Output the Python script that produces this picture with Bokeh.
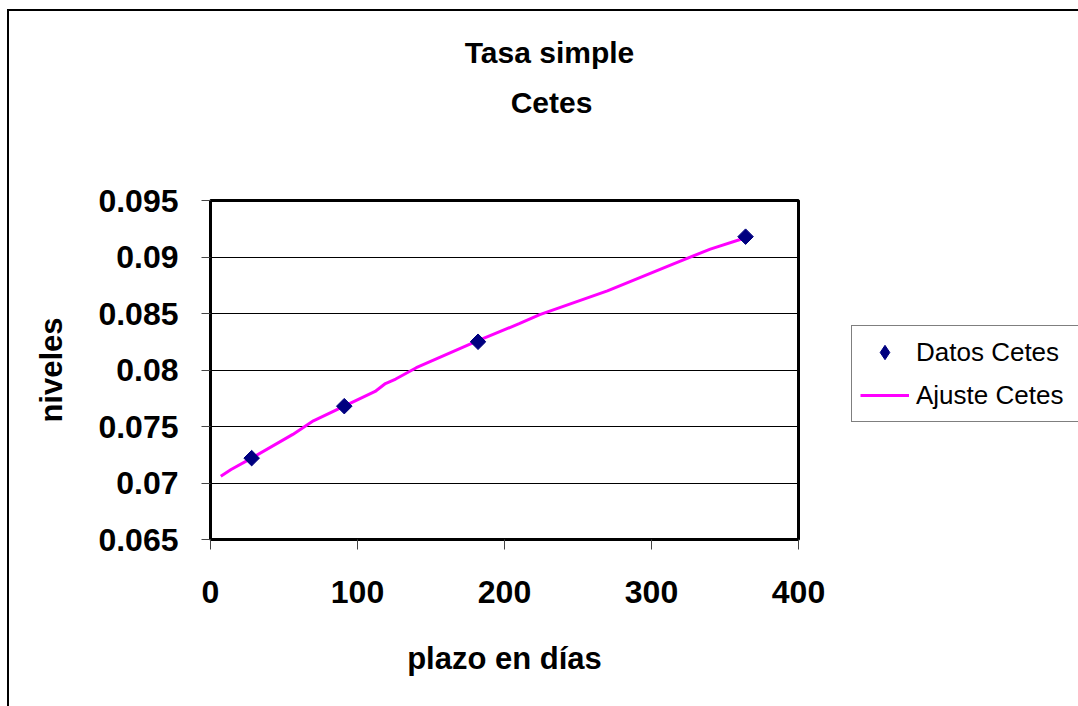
import math
from bokeh.plotting import figure
from bokeh.layouts import row, column
from bokeh.models import Legend, LegendItem, Label, FixedTicker, Range1d
from bokeh.embed import file_html
from bokeh.resources import INLINE

# ---- data ----
plazo_datos = [28, 91, 182, 364]
tasa_datos = [0.0722, 0.0768, 0.0825, 0.0918]

plazo_ajuste = [7, 14, 28, 56, 70, 91, 112, 119, 126, 140, 182, 210, 224, 270, 315, 340, 364]
tasa_ajuste = [0.0706, 0.0712, 0.0722, 0.0743, 0.0755, 0.0768, 0.0781, 0.0788, 0.0792,
               0.0802, 0.0826, 0.0841, 0.0849, 0.0870, 0.0894, 0.0907, 0.0917]

x_ticks = [0, 100, 200, 300, 400]
y_ticks = [0.065, 0.07, 0.075, 0.08, 0.085, 0.09, 0.095]
y_tick_labels = {0.065: "0.065", 0.07: "0.07", 0.075: "0.075", 0.08: "0.08",
                 0.085: "0.085", 0.09: "0.09", 0.095: "0.095"}

titulo = ["Tasa simple", "Cetes"]
x_label = "plazo en días"
y_label = "niveles"
serie_datos = "Datos Cetes"
serie_ajuste = "Ajuste Cetes"

FONT = "Liberation Sans"
NAVY = "#000080"
MAGENTA = "#FF00FF"

# ---- page geometry (chart border at left/top, then three canvases) ----
OX, OY = 9, 11                      # inner origin on the page
TOTAL_W, TOTAL_H = 1078 - OX, 706 - OY
TITLE_H = 130                       # title strip height
LEG_X = 851                         # page x where the legend box starts
MAIN_W = LEG_X - OX
LEG_W = TOTAL_W - MAIN_W
MAIN_H = TOTAL_H - TITLE_H
MAIN_Y = OY + TITLE_H               # page y of the main canvas
PLOT_L, PLOT_R, PLOT_T, PLOT_B = 210, 798, 200, 539   # plot area on the page
TITLE_POS = [(549, 41), (551, 91)]  # (centre x, baseline y) inside the title strip
LEG_TOP = 327                       # page y of the legend box top

# ---- title strip ----
t = figure(width=TOTAL_W, height=TITLE_H, output_backend="svg", toolbar_location=None,
           x_range=Range1d(0, TOTAL_W), y_range=Range1d(TITLE_H, 0),
           x_axis_location=None, y_axis_location=None, min_border=0)
t.grid.visible = False
t.outline_line_color = None
t.background_fill_color = "white"
t.border_fill_color = "white"
for text, (cx, base) in zip(titulo, TITLE_POS):
    t.add_layout(Label(x=cx - OX, y=base, text=text, text_align="center",
                       text_baseline="alphabetic", text_font=FONT, text_font_style="bold",
                       text_font_size="30px", text_color="black"))

# ---- main chart ----
p = figure(width=MAIN_W, height=MAIN_H, output_backend="svg", toolbar_location=None,
           x_range=Range1d(0, 400), y_range=Range1d(0.065, 0.095),
           min_border_left=PLOT_L - OX, min_border_right=MAIN_W - (PLOT_R - OX),
           min_border_top=PLOT_T - MAIN_Y, min_border_bottom=MAIN_H - (PLOT_B - MAIN_Y))
p.background_fill_color = "white"
p.border_fill_color = "white"
p.outline_line_color = "black"
p.outline_line_width = 3

p.xgrid.grid_line_color = None
p.ygrid.grid_line_color = "black"
p.ygrid.grid_line_width = 1
p.ygrid.ticker = FixedTicker(ticks=y_ticks)

p.xaxis.ticker = FixedTicker(ticks=x_ticks)
p.yaxis.ticker = FixedTicker(ticks=y_ticks)
p.yaxis.major_label_overrides = y_tick_labels
for ax in (p.xaxis[0], p.yaxis[0]):
    ax.axis_line_color = None
    ax.major_tick_line_color = "#444444"
    ax.major_tick_line_width = 1
    ax.major_tick_in = 0
    ax.minor_tick_line_color = None
    ax.major_label_text_font = FONT
    ax.major_label_text_font_style = "bold"
    ax.major_label_text_font_size = "32px"
    ax.major_label_text_color = "black"
    ax.axis_label_text_font = FONT
    ax.axis_label_text_font_style = "bold"
    ax.axis_label_text_font_size = "31px"
    ax.axis_label_text_color = "black"
p.xaxis.major_tick_out = 10
p.yaxis.major_tick_out = 9
p.xaxis.major_label_standoff = 31
p.yaxis.major_label_standoff = 23
p.xaxis.axis_label = x_label
p.yaxis.axis_label = y_label
p.xaxis.axis_label_standoff = 35
p.yaxis.axis_label_standoff = 26

p.line(plazo_ajuste, tasa_ajuste, line_color=MAGENTA, line_width=3)
p.scatter(plazo_datos, tasa_datos, marker="square", size=11, angle=math.pi / 4,
          fill_color=NAVY, line_color=NAVY)

# ---- legend strip (its frame is aligned with the main plot area by the row) ----
# the key renderers reuse the series but lie outside this strip's ranges, so only
# their legend swatches are drawn
lg = figure(width=LEG_W, height=MAIN_H, output_backend="svg", toolbar_location=None,
            x_range=Range1d(-2, -1), y_range=Range1d(-2, -1),
            x_axis_location=None, y_axis_location=None, min_border=0)
lg.grid.visible = False
lg.outline_line_color = None
lg.background_fill_color = "white"
lg.border_fill_color = "white"
k_pts = lg.scatter(plazo_datos, tasa_datos, marker="diamond", fill_color=NAVY, line_color=NAVY)
k_fit = lg.line(plazo_ajuste, tasa_ajuste, line_color=MAGENTA, line_width=3)

legend = Legend(items=[LegendItem(label=serie_datos, renderers=[k_pts]),
                       LegendItem(label=serie_ajuste, renderers=[k_fit])])
legend.label_text_font = FONT
legend.label_text_font_size = "26px"
legend.label_text_color = "black"
legend.border_line_color = "black"
legend.border_line_width = 1
legend.background_fill_color = "white"
legend.background_fill_alpha = 1
legend.glyph_width = 49
legend.glyph_height = 36
legend.label_height = 36
legend.label_width = 170
legend.label_standoff = 7
legend.spacing = 7
legend.padding = 8
legend.margin = 0
leg_h = 2 * legend.padding + 2 * legend.glyph_height + legend.spacing
legend.location = (0, PLOT_B - LEG_TOP - leg_h)
lg.add_layout(legend)

layout = column(t, row(p, lg))
layout.styles = {"margin-left": "7px", "margin-top": "9px",
                 "border-left": "2px solid black", "border-top": "2px solid black"}

open("out.html", "w").write(file_html(layout, INLINE))
